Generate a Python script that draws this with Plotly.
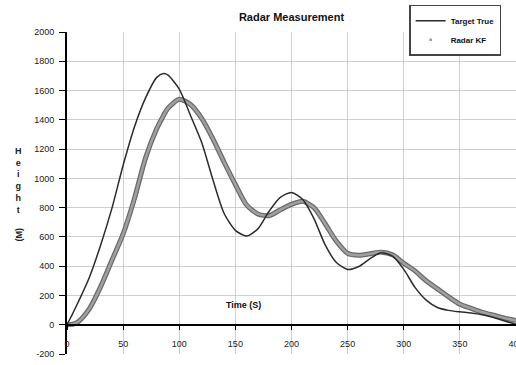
import plotly.graph_objects as go

time_s = [0, 5, 10, 20, 30, 40, 50, 60, 70, 80, 86, 90, 100, 110, 120, 130, 140, 150, 160, 170, 180,
          190, 200, 210, 220, 230, 240, 250, 260, 270, 280, 290, 300, 310, 320, 330, 340, 350,
          360, 370, 380, 390, 400]
target_true = [0, 75, 155, 325, 545, 795, 1090, 1350, 1550, 1690, 1716, 1705, 1610, 1430, 1245, 990, 760,
               645, 606, 655, 775, 870, 904, 855, 725, 545, 425, 378, 398, 452, 492, 468, 378,
               255, 168, 118, 98, 88, 80, 68, 50, 25, 3]
radar_kf = [0, 3, 20, 110, 260, 440, 620, 860, 1140, 1340, 1430, 1480, 1540, 1505, 1410, 1270, 1110,
            958, 818, 757, 745, 785, 822, 843, 800, 690, 570, 488, 475, 485, 496, 478, 420,
            368, 300, 245, 190, 140, 112, 85, 65, 45, 28]

x_ticks = [0, 50, 100, 150, 200, 250, 300, 350, 400]
y_ticks = [-200, 0, 200, 400, 600, 800, 1000, 1200, 1400, 1600, 1800, 2000]

FONT = "Liberation Sans"

fig = go.Figure()
fig.add_trace(go.Scatter(x=time_s, y=radar_kf, mode="lines", name="Radar KF",
                         line=dict(color="#6a6a6a", width=5, shape="spline", smoothing=0.7),
                         showlegend=False, hoverinfo="skip"))
fig.add_trace(go.Scatter(x=time_s, y=radar_kf, mode="lines", name="Radar KF",
                         line=dict(color="#a0a0a0", width=2.5, shape="spline", smoothing=0.7),
                         showlegend=False))
fig.add_trace(go.Scatter(x=time_s, y=target_true, mode="lines", name="Target True",
                         line=dict(color="#2b2b2b", width=1.5, shape="spline", smoothing=0.7)))
# legend proxy for Radar KF (small gray dot, as in the original)
fig.add_trace(go.Scatter(x=[None], y=[None], mode="markers", name="Radar KF",
                         marker=dict(color="#9a9a9a", size=3)))

fig.update_layout(
    width=516, height=365,
    margin=dict(l=67, r=0, t=32, b=11, autoexpand=False),
    paper_bgcolor="white", plot_bgcolor="white",
    font=dict(family=FONT, size=9, color="#222"),
    title=dict(text="<b>Radar Measurement</b>", x=0.5, xref="paper", xanchor="center",
               y=1, yref="container", yanchor="top", pad=dict(t=13),
               font=dict(family=FONT, size=11, color="#111")),
    showlegend=True,
    legend=dict(x=0.762, y=1.085, xanchor="left", yanchor="top",
                bgcolor="white", bordercolor="#444", borderwidth=1.5,
                font=dict(family=FONT, size=8, color="#111", weight="bold"),
                itemwidth=30, tracegroupgap=2),
    xaxis=dict(range=[0, 400], tickvals=x_ticks, ticktext=[str(v) for v in x_ticks],
               showgrid=True, gridcolor="#cfcfcf", gridwidth=1,
               showline=True, linecolor="black", linewidth=2,
               anchor="free", position=200 / 2200, automargin=False,
               ticks="outside", ticklen=4, tickcolor="black", tickwidth=1,
               ticklabelstandoff=6, zeroline=False, ticklabeloverflow="allow",
               tickfont=dict(family=FONT, size=9, color="#222")),
    yaxis=dict(range=[-200, 2000], tickvals=y_ticks, ticktext=[str(v) for v in y_ticks],
               showgrid=True, gridcolor="#cfcfcf", gridwidth=1,
               showline=True, linecolor="black", linewidth=2, automargin=False,
               ticks="outside", ticklen=6, tickcolor="black", tickwidth=1,
               ticklabelstandoff=3, zeroline=False,
               tickfont=dict(family=FONT, size=9, color="#222")),
)

fig.add_annotation(text="<b>H<br>e<br>i<br>g<br>h<br>t</b>", xref="paper", yref="paper",
                   x=-0.108, y=(354 - 180) / 322, xanchor="center", yanchor="middle",
                   showarrow=False, font=dict(family=FONT, size=9, color="#222"))
fig.add_annotation(text="<b>(M)</b>", xref="paper", yref="paper",
                   x=-0.108, y=(354 - 235) / 322, xanchor="center", yanchor="middle",
                   textangle=-90, showarrow=False, font=dict(family=FONT, size=9, color="#222"))
fig.add_annotation(text="<b>Time (S)</b>", xref="x", yref="y", x=157, y=133,
                   showarrow=False, font=dict(family=FONT, size=9, color="#111"))

fig.write_html("out.html")
